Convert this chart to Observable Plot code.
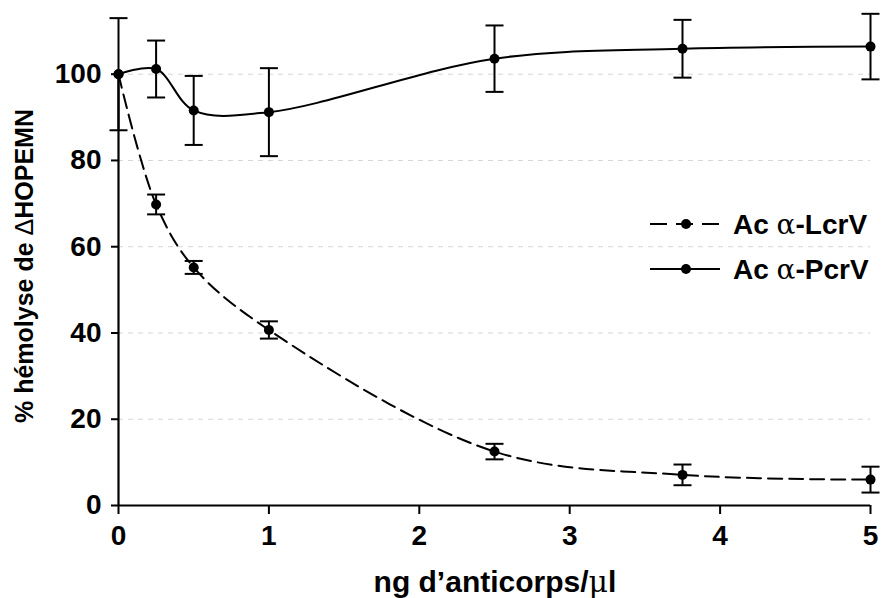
<!DOCTYPE html>
<html><head><meta charset="utf-8">
<script src="https://cdn.jsdelivr.net/npm/d3@7"></script>
<script src="https://cdn.jsdelivr.net/npm/@observablehq/plot@0.6"></script>
<style>
body{margin:0;background:#fff}
#chart{position:relative;width:881px;height:598px}
</style>
</head><body><div id="chart"></div>
<script>
// ---- data ----
const doses = [0, 0.25, 0.5, 1, 2.5, 3.75, 5];
const lcrvMean = [100, 69.8, 55.2, 40.7, 12.5, 7.1, 6.0];
const lcrvErr  = [0, 2.3, 1.5, 2.0, 1.8, 2.4, 3.0];
const pcrvMean = [100, 101.2, 91.6, 91.2, 103.6, 105.9, 106.4];
const pcrvErr  = [13, 6.6, 8.0, 10.2, 7.7, 6.7, 7.6];
const seriesNames = ["Ac α-LcrV", "Ac α-PcrV"];
const xTicks = [0, 1, 2, 3, 4, 5];
const yTicks = [0, 20, 40, 60, 80, 100];
const gridTicks = [20, 40, 60, 80, 100];

const lcrv = doses.map((d, i) => ({dose: d, mean: lcrvMean[i], err: lcrvErr[i], series: seriesNames[0]}));
const pcrv = doses.map((d, i) => ({dose: d, mean: pcrvMean[i], err: pcrvErr[i], series: seriesNames[1]}));
const all = lcrv.concat(pcrv).filter(d => d.err > 0);

const capSymbol = {
  draw(ctx, size) {
    const r = Math.sqrt(size / Math.PI);
    ctx.moveTo(-r, 0); ctx.lineTo(r, 0);
  }
};

const font = "'Liberation Sans', Arial, Helvetica, sans-serif";

const plot = Plot.plot({
  width: 881,
  height: 598,
  marginLeft: 118,
  marginRight: 11,
  marginTop: 9,
  marginBottom: 93,
  style: {fontFamily: font, fontSize: "28px", fontWeight: "bold", background: "#fff", color: "#000"},
  x: {domain: [0, 5]},
  y: {domain: [0, 115]},
  marks: [
    Plot.ruleY(gridTicks, {stroke: "#d6d6d6", strokeWidth: 1, strokeDasharray: "5,5"}),
    Plot.axisX({ticks: xTicks, tickSize: 9, strokeWidth: 2, label: null, tickFormat: () => ""}),
    Plot.axisY({ticks: yTicks, tickSize: 7, strokeWidth: 2, label: null, tickFormat: () => ""}),
    Plot.text(xTicks, {x: d => d, y: 0, text: d => String(d), dy: 20, lineAnchor: "top", textAnchor: "middle", fontSize: 28, fontWeight: "bold", fill: "#000"}),
    Plot.text(yTicks, {x: 0, y: d => d, text: d => String(d), dx: -17, textAnchor: "end", fontSize: 28, fontWeight: "bold", fill: "#000"}),
    Plot.ruleY([0], {stroke: "#000", strokeWidth: 2.2}),
    Plot.ruleX([0], {y1: 0, y2: 100, stroke: "#000", strokeWidth: 2.2}),
    Plot.line(lcrv, {x: "dose", y: "mean", curve: "catmull-rom", stroke: "#000", strokeWidth: 2, strokeDasharray: "14,7"}),
    Plot.line(pcrv, {x: "dose", y: "mean", curve: "catmull-rom", stroke: "#000", strokeWidth: 2}),
    Plot.ruleX(all, {x: "dose", y1: d => d.mean - d.err, y2: d => d.mean + d.err, stroke: "#000", strokeWidth: 2}),
    Plot.dot(all, {x: "dose", y: d => d.mean + d.err, symbol: capSymbol, r: 9, stroke: "#000", strokeWidth: 2, fill: "none"}),
    Plot.dot(all, {x: "dose", y: d => d.mean - d.err, symbol: capSymbol, r: 9, stroke: "#000", strokeWidth: 2, fill: "none"}),
    Plot.dot(lcrv.concat(pcrv), {x: "dose", y: "mean", r: 5, fill: "#000", stroke: "none"})
  ]
});
document.getElementById("chart").appendChild(plot);

const svg = d3.select(plot);

// axis titles
const xl = svg.append("text").attr("x", 495).attr("y", 592).attr("text-anchor", "middle")
  .attr("font-family", font).style("font-size", "30px").attr("font-weight", "bold");
xl.append("tspan").text("ng d\u2019anticorps/");
xl.append("tspan").attr("font-weight", "normal").attr("font-family", "'DejaVu Serif', serif").text("\u03bc");
xl.append("tspan").text("l");

const yl = svg.append("text").attr("transform", "translate(33,266) rotate(-90)").attr("text-anchor", "middle")
  .attr("font-family", font).style("font-size", "25px").attr("font-weight", "bold");
yl.append("tspan").text("% h\u00e9molyse de ");
yl.append("tspan").attr("font-weight", "normal").text("\u0394");
yl.append("tspan").text("HOPEMN");

// legend
const leg = svg.append("g");
const rows = [{y: 224, dash: "17,9"}, {y: 269, dash: null}];
rows.forEach((r, i) => {
  leg.append("line").attr("x1", 650).attr("x2", 720).attr("y1", r.y).attr("y2", r.y)
    .attr("stroke", "#000").attr("stroke-width", 2).attr("stroke-dasharray", r.dash);
  leg.append("circle").attr("cx", 686).attr("cy", r.y).attr("r", 5).attr("fill", "#000");
  const parts = seriesNames[i].split("α");
  const t = leg.append("text").attr("x", 733).attr("y", r.y + 10).attr("text-anchor", "start")
    .attr("font-family", font).style("font-size", "28px").attr("font-weight", "bold");
  t.append("tspan").text(parts[0]);
  t.append("tspan").attr("font-weight", "normal").attr("font-family", "'DejaVu Serif', serif").text("α");
  t.append("tspan").text(parts[1]);
});
</script>
</body></html>
